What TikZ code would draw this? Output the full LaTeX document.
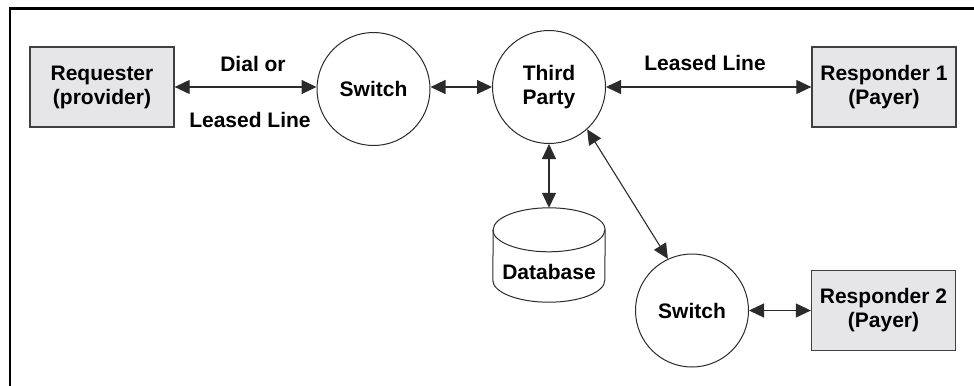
\documentclass[tikz,border=0pt]{standalone}
\usepackage{fontspec}
\setmainfont{Liberation Sans}
\usetikzlibrary{arrows.meta}
\definecolor{ink}{HTML}{2B2B2B}
\definecolor{boxfill}{HTML}{E6E6E8}
\definecolor{boxline}{HTML}{404040}
\begin{document}
\begin{tikzpicture}[x=1bp,y=-1bp,
  every node/.style={font=\fontsize{21bp}{24bp}\selectfont\bfseries, align=center, inner sep=0pt, text=black},
  party/.style={draw=boxline, line width=1.3bp, fill=boxfill, minimum width=144bp, minimum height=80bp},
  hub/.style={circle, draw=ink, line width=1bp, minimum size=113bp},
  link/.style={draw=ink, line width=1.1bp, {Triangle[length=15bp,width=14bp]}-{Triangle[length=15bp,width=14bp]}},
  ]
\useasboundingbox (0,0) rectangle (974,385);

% open frame: top and left edges
\draw[line width=2.2bp] (10,390) -- (10,8.5) -- (980,8.5);

% parties
\node[party] (req) at (102,87) {Requester\\(provider)};
\node[party] (r1)  at (884,87) {Responder 1\\(Payer)};
\node[party] (r2)  at (883.5,310.5) {Responder 2\\(Payer)};

% switches and the third party
\node[hub] (s1) at (373.5,89) {Switch};
\node[hub] (tp) at (549,87) {Third\\Party};
\node[hub] (s2) at (692,310.5) {Switch};

% database cylinder
\node[minimum width=112bp, minimum height=94bp] (db) at (549,255) {};
\draw[ink, line width=1bp, fill=white]
  ([yshift=22bp]db.south west)
    arc[start angle=180, end angle=360, x radius=56bp, y radius=22bp]
  -- ([yshift=-22bp]db.north east)
    arc[start angle=0, end angle=180, x radius=56bp, y radius=22bp]
  -- cycle;
\draw[ink, line width=1bp] ([yshift=-22bp]db.north west)
    arc[start angle=180, end angle=360, x radius=56bp, y radius=22bp];
\node (dbname) at (549,272) {Database};

% link labels
\node (dial)   at (253,64)  {Dial or};
\node (leased) at (250,120) {Leased Line};
\node (lease2) at (705,63)  {Leased Line};

% connections
\draw[link] (req.east) -- (req.east -| s1.west);
\draw[link] (tp.west -| s1.east) -- (tp.west);
\draw[link] (tp.east) -- (r1.west);
\draw[link] (tp.south) -- (db.north);
\draw[link] (tp.-48) -- (s2.115);
\draw[link] (s2.east) -- (r2.west);
\end{tikzpicture}
\end{document}
